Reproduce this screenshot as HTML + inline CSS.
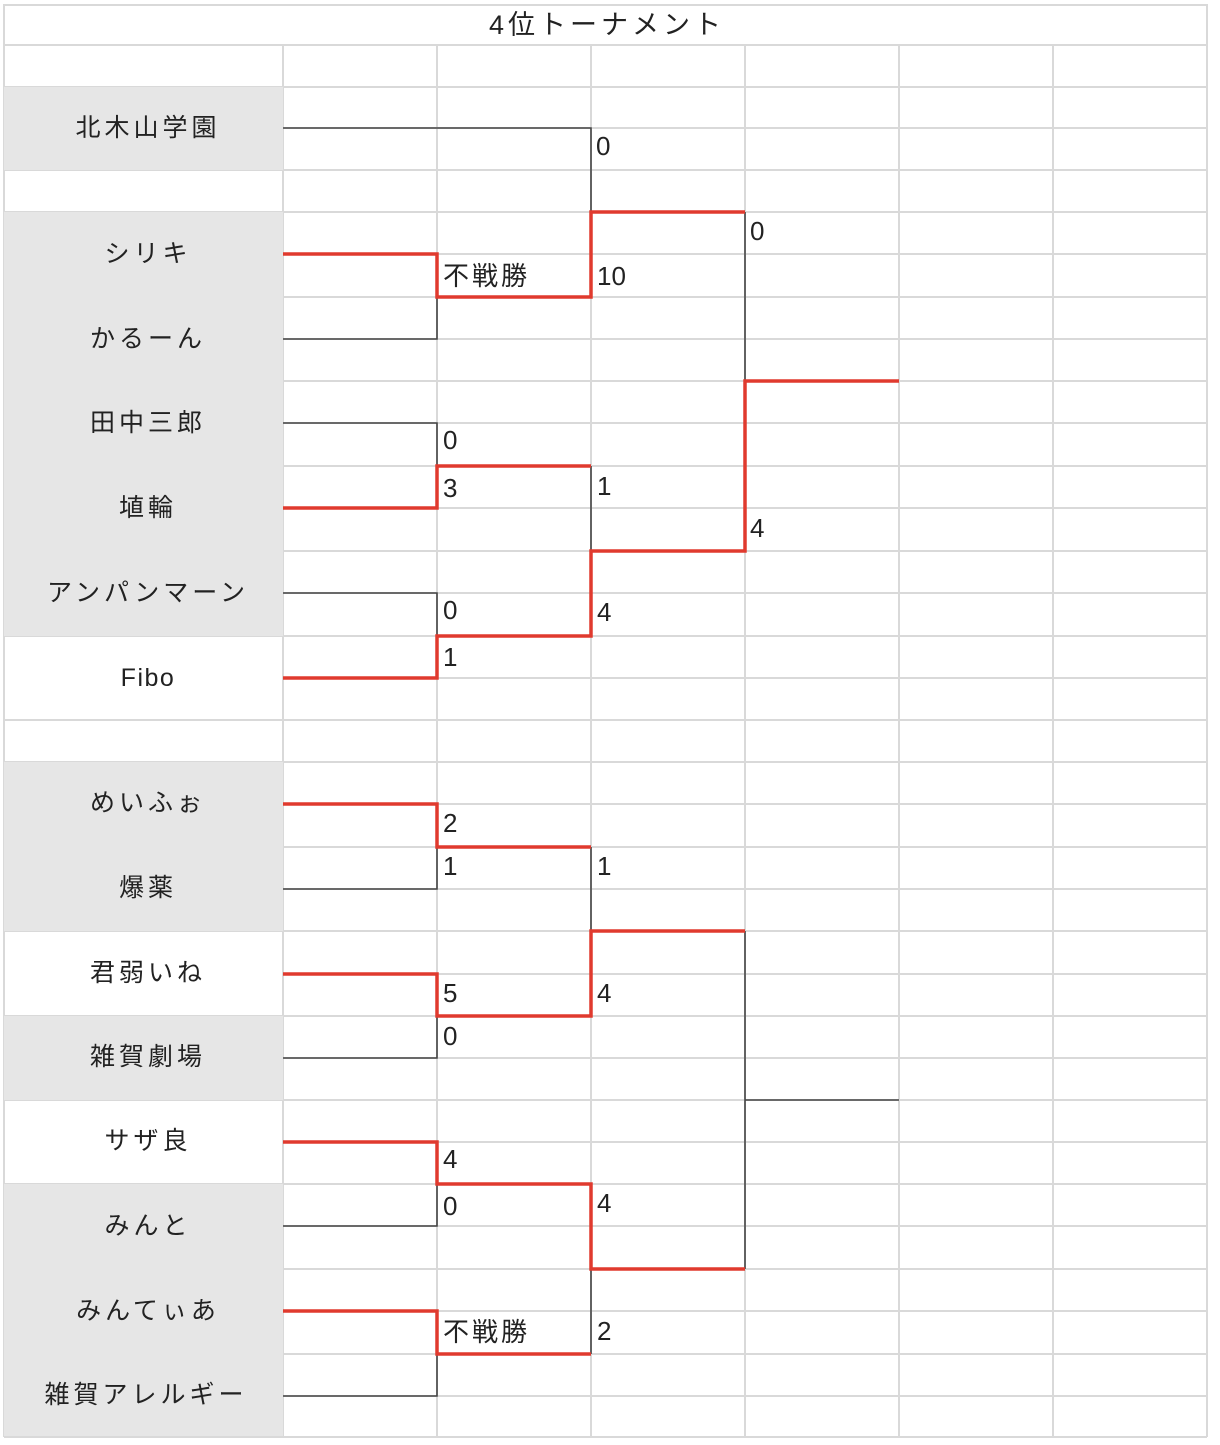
<!DOCTYPE html>
<html><head><meta charset="utf-8"><style>
html,body{margin:0;padding:0;background:#fff;}
svg{display:block;}
text{font-family:"Liberation Sans","Noto Sans CJK JP",sans-serif;fill:#222;}
</style></head><body>
<svg width="1220" height="1445" viewBox="0 0 1220 1445" xmlns="http://www.w3.org/2000/svg">
<rect width="1220" height="1445" fill="#fff"/>
<g stroke="#d9d9d9" stroke-width="2" fill="none">
<line x1="4" y1="5" x2="1207" y2="5"/>
<line x1="4" y1="4" x2="4" y2="1437"/>
<line x1="1207" y1="4" x2="1207" y2="1437"/>
<line x1="283" y1="45" x2="283" y2="1437"/>
<line x1="437" y1="45" x2="437" y2="1437"/>
<line x1="591" y1="45" x2="591" y2="1437"/>
<line x1="745" y1="45" x2="745" y2="1437"/>
<line x1="899" y1="45" x2="899" y2="1437"/>
<line x1="1053" y1="45" x2="1053" y2="1437"/>
<g>
<line x1="4" y1="45" x2="1207" y2="45"/>
<line x1="283" y1="87" x2="1207" y2="87"/>
<line x1="283" y1="128" x2="1207" y2="128"/>
<line x1="283" y1="170" x2="1207" y2="170"/>
<line x1="283" y1="212" x2="1207" y2="212"/>
<line x1="283" y1="254" x2="1207" y2="254"/>
<line x1="283" y1="297" x2="1207" y2="297"/>
<line x1="283" y1="339" x2="1207" y2="339"/>
<line x1="283" y1="381" x2="1207" y2="381"/>
<line x1="283" y1="423" x2="1207" y2="423"/>
<line x1="283" y1="466" x2="1207" y2="466"/>
<line x1="283" y1="508" x2="1207" y2="508"/>
<line x1="283" y1="551" x2="1207" y2="551"/>
<line x1="283" y1="593" x2="1207" y2="593"/>
<line x1="283" y1="636" x2="1207" y2="636"/>
<line x1="283" y1="678" x2="1207" y2="678"/>
<line x1="283" y1="720" x2="1207" y2="720"/>
<line x1="283" y1="762" x2="1207" y2="762"/>
<line x1="283" y1="804" x2="1207" y2="804"/>
<line x1="283" y1="847" x2="1207" y2="847"/>
<line x1="283" y1="889" x2="1207" y2="889"/>
<line x1="283" y1="931" x2="1207" y2="931"/>
<line x1="283" y1="974" x2="1207" y2="974"/>
<line x1="283" y1="1016" x2="1207" y2="1016"/>
<line x1="283" y1="1058" x2="1207" y2="1058"/>
<line x1="283" y1="1100" x2="1207" y2="1100"/>
<line x1="283" y1="1142" x2="1207" y2="1142"/>
<line x1="283" y1="1184" x2="1207" y2="1184"/>
<line x1="283" y1="1226" x2="1207" y2="1226"/>
<line x1="283" y1="1269" x2="1207" y2="1269"/>
<line x1="283" y1="1311" x2="1207" y2="1311"/>
<line x1="283" y1="1354" x2="1207" y2="1354"/>
<line x1="283" y1="1396" x2="1207" y2="1396"/>
<line x1="4" y1="1437" x2="1207" y2="1437"/>
</g>
<line x1="4" y1="87" x2="283" y2="87"/>
<line x1="4" y1="170" x2="283" y2="170"/>
<line x1="4" y1="212" x2="283" y2="212"/>
<line x1="4" y1="636" x2="283" y2="636"/>
<line x1="4" y1="720" x2="283" y2="720"/>
<line x1="4" y1="762" x2="283" y2="762"/>
<line x1="4" y1="931" x2="283" y2="931"/>
<line x1="4" y1="1016" x2="283" y2="1016"/>
<line x1="4" y1="1100" x2="283" y2="1100"/>
<line x1="4" y1="1184" x2="283" y2="1184"/>
</g>
<g fill="#e6e6e6">
<rect x="4" y="87" width="279" height="83"/>
<rect x="4" y="212" width="279" height="424"/>
<rect x="4" y="762" width="279" height="169"/>
<rect x="4" y="1016" width="279" height="84"/>
<rect x="4" y="1184" width="279" height="252"/>
</g>
<text x="607" y="34" font-size="27" text-anchor="middle" letter-spacing="4">4位トーナメント</text>
<g font-size="25" text-anchor="middle" letter-spacing="4">
<text x="148" y="136">北木山学園</text>
<text x="148" y="262">シリキ</text>
<text x="148" y="347">かるーん</text>
<text x="148" y="431">田中三郎</text>
<text x="148" y="516">埴輪</text>
<text x="148" y="601">アンパンマーン</text>
<text x="148" y="686" letter-spacing="1.5">Fibo</text>
<text x="148" y="811">めいふぉ</text>
<text x="148" y="896">爆薬</text>
<text x="148" y="981">君弱いね</text>
<text x="148" y="1065">雑賀劇場</text>
<text x="148" y="1149">サザ良</text>
<text x="148" y="1234">みんと</text>
<text x="148" y="1319">みんてぃあ</text>
<text x="146" y="1403">雑賀アレルギー</text>
</g>
<g stroke="#444" stroke-width="1.6" fill="none">
<polyline points="283,128 591,128 591,212"/>
<polyline points="283,339 437,339 437,297"/>
<polyline points="283,423 437,423 437,466"/>
<polyline points="283,593 437,593 437,636"/>
<line x1="591" y1="466" x2="591" y2="551"/>
<line x1="745" y1="212" x2="745" y2="381"/>
<polyline points="283,889 437,889 437,847"/>
<polyline points="283,1058 437,1058 437,1016"/>
<line x1="591" y1="847" x2="591" y2="931"/>
<polyline points="283,1226 437,1226 437,1184"/>
<polyline points="283,1396 437,1396 437,1354"/>
<line x1="591" y1="1269" x2="591" y2="1354"/>
<line x1="745" y1="931" x2="745" y2="1269"/>
<line x1="745" y1="1100" x2="899" y2="1100"/>
</g>
<g stroke="#e03a2e" stroke-width="3.5" fill="none" stroke-linejoin="miter">
<polyline points="283,254 437,254 437,297 591,297 591,212 745,212"/>
<polyline points="283,508 437,508 437,466 591,466"/>
<polyline points="283,678 437,678 437,636 591,636 591,551 745,551 745,381 899,381"/>
<polyline points="283,804 437,804 437,847 591,847"/>
<polyline points="283,974 437,974 437,1016 591,1016 591,931 745,931"/>
<polyline points="283,1142 437,1142 437,1184 591,1184 591,1269 745,1269"/>
<polyline points="283,1311 437,1311 437,1354 591,1354"/>
</g>
<g font-size="26">
<text x="596" y="155">0</text>
<text x="443" y="285" letter-spacing="3">不戦勝</text>
<text x="597" y="285">10</text>
<text x="750" y="240">0</text>
<text x="443" y="449">0</text>
<text x="443" y="497">3</text>
<text x="597" y="495">1</text>
<text x="750" y="537">4</text>
<text x="443" y="619">0</text>
<text x="443" y="666">1</text>
<text x="597" y="621">4</text>
<text x="443" y="832">2</text>
<text x="443" y="875">1</text>
<text x="597" y="875">1</text>
<text x="443" y="1002">5</text>
<text x="443" y="1045">0</text>
<text x="597" y="1002">4</text>
<text x="443" y="1168">4</text>
<text x="443" y="1215">0</text>
<text x="597" y="1212">4</text>
<text x="443" y="1341" letter-spacing="3">不戦勝</text>
<text x="597" y="1340">2</text>
</g>
</svg>
</body></html>
